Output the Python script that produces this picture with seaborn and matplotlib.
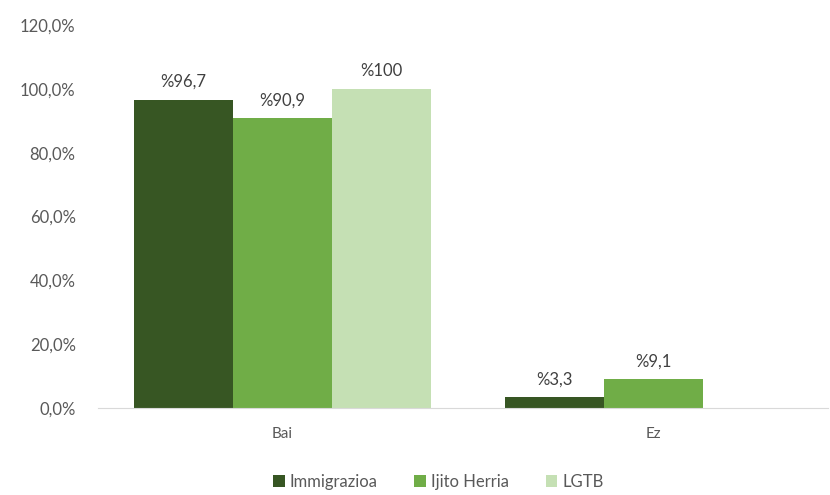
import pandas as pd
import matplotlib
matplotlib.use("Agg")
import matplotlib.pyplot as plt
import seaborn as sns

categories = ["Bai", "Ez"]
groups = ["Immigrazioa", "Ijito Herria", "LGTB"]
immigrazioa = [96.7, 3.3]
ijito_herria = [90.9, 9.1]
lgtb = [100.0, 0.0]
value_labels = {
    "Immigrazioa": ["%96,7", "%3,3"],
    "Ijito Herria": ["%90,9", "%9,1"],
    "LGTB": ["%100", ""],
}
yticks = [0, 20, 40, 60, 80, 100, 120]

rows = []
for g, vals in zip(groups, [immigrazioa, ijito_herria, lgtb]):
    for c, v in zip(categories, vals):
        rows.append({"cat": c, "group": g, "value": v})
df = pd.DataFrame(rows)

sns.set_style("white")
plt.rcParams["font.family"] = ["Lato", "DejaVu Sans"]

fig = plt.figure(figsize=(8.3, 4.95), dpi=100)
ax = fig.add_axes([0.118, 0.176, 0.88, 0.773])

palette = ["#375623", "#70AD47", "#C5E0B4"]
sns.barplot(data=df, x="cat", y="value", hue="group", hue_order=groups,
            palette=palette, width=0.8, saturation=1, linewidth=0, ax=ax, legend=True)

for cont, g in zip(ax.containers, groups):
    ax.bar_label(cont, labels=value_labels[g], padding=7, fontsize=12, color="#404040")

ax.set_xlim(-0.497, 1.47)
ax.set_ylim(0, 120)
ax.set_yticks(yticks)
ax.set_yticklabels([f"{t:.1f}%".replace(".", ",") for t in yticks], fontsize=12, color="#595959")
ax.tick_params(axis="x", labelsize=11, colors="#595959", length=0, pad=14)
ax.tick_params(axis="y", length=0, pad=16)
ax.set_xlabel("")
ax.set_ylabel("")
for s in ["top", "right", "left"]:
    ax.spines[s].set_visible(False)
ax.spines["bottom"].set_color("#d9d9d9")

ax.legend(loc="center", bbox_to_anchor=(0.466, -0.193), ncol=3, frameon=False,
          fontsize=12, handlelength=0.7, handleheight=0.7, handletextpad=0.3,
          columnspacing=2.2, labelcolor="#595959", borderpad=0)

fig.savefig("out.png", dpi=100)
